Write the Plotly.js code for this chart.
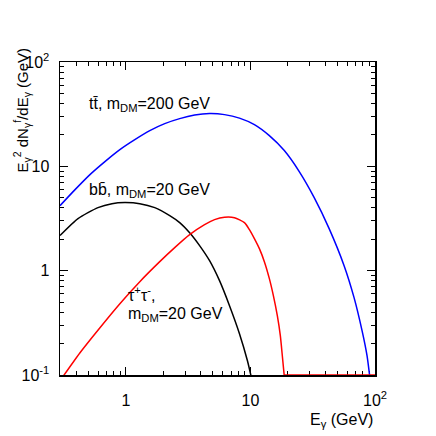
<!DOCTYPE html>
<html>
<head>
<meta charset="utf-8">
<script src="https://cdn.plot.ly/plotly-3.0.1.min.js"></script>
<style>html,body{margin:0;padding:0;background:#fff;}#chart{width:436px;height:436px;}</style>
</head>
<body>
<div id="chart"></div>
<script>
// t tbar, m_DM = 200 GeV
const ttE = [0.296, 0.391, 0.515, 0.679, 0.895, 1.180, 1.556, 2.051, 2.704, 3.565, 4.699, 6.194, 8.166, 10.76, 14.19, 18.71, 24.66, 32.51, 42.85, 56.49, 67.92, 78.71, 86.30, 91.20];
const ttY = [4.20, 5.98, 8.33, 11.10, 14.46, 18.03, 21.99, 25.67, 28.67, 30.97, 32.01, 31.31, 28.99, 25.11, 19.69, 14.15, 8.90, 5.01, 2.53, 1.117, 0.551, 0.266, 0.153, 0.092];
// b bbar, m_DM = 20 GeV
const bbE = [0.296, 0.413, 0.597, 0.773, 0.982, 1.294, 1.706, 2.249, 2.704, 3.251, 3.908, 4.699, 5.649, 6.792, 8.166, 9.462, 10.19];
const bbY = [2.17, 3.15, 4.02, 4.39, 4.49, 4.39, 4.02, 3.37, 2.89, 2.31, 1.74, 1.247, 0.802, 0.462, 0.249, 0.137, 0.094];
// tau+ tau-, m_DM = 20 GeV
const tauE = [0.296, 0.4285, 0.6194, 0.8954, 1.294, 1.871, 2.466, 3.251, 4.285, 5.152, 6.194, 7.447, 8.954, 9.817, 10.76, 11.80, 12.94, 14.19, 15.28, 16.44, 17.38, 18.03, 18.71];
const tauY = [0.088, 0.1636, 0.2841, 0.4827, 0.7844, 1.220, 1.662, 2.214, 2.761, 3.083, 3.258, 3.222, 2.885, 2.473, 2.027, 1.625, 1.220, 0.838, 0.576, 0.370, 0.238, 0.153, 0.0963];
// above the cut-off the tau spectrum sits on the plot floor
const tauFloorE = [18.71, 100];
const tauFloorY = [0.1, 0.1];

const xTickVals = [1, 10, 100];
const xTickText = ['1', '10', '10<sup>2</sup>'];
const yTickVals = [0.1, 1, 10, 100];
const yTickText = ['10<sup>-1</sup>', '1', '10', '10<sup>2</sup>'];

function minorTicks(lo, hi) {
  const v = [];
  for (let d = lo; d < hi; d++) for (let k = 2; k <= 9; k++) v.push(k * Math.pow(10, d));
  return v;
}

const font = {family: 'Liberation Sans, Arial, sans-serif', size: 16, color: '#000'};
const titleFont = {family: 'Liberation Sans, Arial, sans-serif', size: 15, color: '#000'};
const lineShape = {width: 1.5, shape: 'spline', smoothing: 0.6};

const traces = [
  {x: ttE, y: ttY, mode: 'lines', line: Object.assign({color: '#0000ff'}, lineShape), showlegend: false},
  {x: bbE, y: bbY, mode: 'lines', line: Object.assign({color: '#000000'}, lineShape), showlegend: false},
  {x: tauE, y: tauY, mode: 'lines', line: Object.assign({color: '#ff0000'}, lineShape), showlegend: false},
  {x: tauFloorE, y: tauFloorY, mode: 'lines', line: {color: '#ff0000', width: 1.5}, showlegend: false}
];

const axisCommon = {
  type: 'log', showgrid: false, zeroline: false,
  showline: true, linecolor: '#000', linewidth: 1.5, mirror: 'allticks',
  ticks: 'inside', ticklen: 8, tickwidth: 1, tickcolor: '#000',
  tickmode: 'array', tickfont: font,
  layer: 'below traces'
};

const layout = {
  width: 436, height: 436,
  margin: {l: 60, r: 61, t: 62, b: 61},
  paper_bgcolor: '#fff', plot_bgcolor: '#fff',
  font: font,
  xaxis: Object.assign({}, axisCommon, {
    range: [Math.log10(0.296), 2], tickvals: xTickVals, ticktext: xTickText, ticklabelstandoff: 10,
    minor: {tickmode: 'array', tickvals: minorTicks(-1, 2), ticks: 'inside', ticklen: 4, tickwidth: 1, tickcolor: '#000', showgrid: false}
  }),
  yaxis: Object.assign({}, axisCommon, {
    range: [-1, 2], tickvals: yTickVals, ticktext: yTickText, ticklabelstandoff: 6,
    minor: {tickmode: 'array', tickvals: minorTicks(-1, 2), ticks: 'inside', ticklen: 4, tickwidth: 1, tickcolor: '#000', showgrid: false}
  }),
  annotations: [
    {xref: 'paper', yref: 'paper', x: 1, y: -0.144, xanchor: 'right', yanchor: 'middle', showarrow: false,
     text: 'E<sub>γ</sub> (GeV)', font: font},
    {xref: 'paper', yref: 'paper', x: (22 - 60) / 315, y: (375 - 46) / 313, xanchor: 'center', yanchor: 'top', showarrow: false,
     textangle: -90, text: 'E<sub>γ</sub><sup>2</sup> dN<sub>γ</sub><sup>f</sup>/dE<sub>γ</sub> (GeV)', font: titleFont},
    {xref: 'paper', yref: 'paper', x: (87 - 60) / 315, y: (375 - 104) / 313, xanchor: 'left', yanchor: 'middle', showarrow: false,
     text: 'tt\u0304, m<sub>DM</sub>=200 GeV', font: font},
    {xref: 'paper', yref: 'paper', x: (87 - 60) / 315, y: (375 - 190) / 313, xanchor: 'left', yanchor: 'middle', showarrow: false,
     text: 'bb\u0304, m<sub>DM</sub>=20 GeV', font: font},
    {xref: 'paper', yref: 'paper', x: (126 - 60) / 315, y: (375 - 294) / 313, xanchor: 'left', yanchor: 'middle', showarrow: false,
     text: 'τ<sup>+</sup>τ<sup>-</sup>,', font: font},
    {xref: 'paper', yref: 'paper', x: (126 - 60) / 315, y: (375 - 314) / 313, xanchor: 'left', yanchor: 'middle', showarrow: false,
     text: 'm<sub>DM</sub>=20 GeV', font: font}
  ]
};

Plotly.newPlot('chart', traces, layout, {staticPlot: true, displayModeBar: false});
</script>
</body>
</html>
